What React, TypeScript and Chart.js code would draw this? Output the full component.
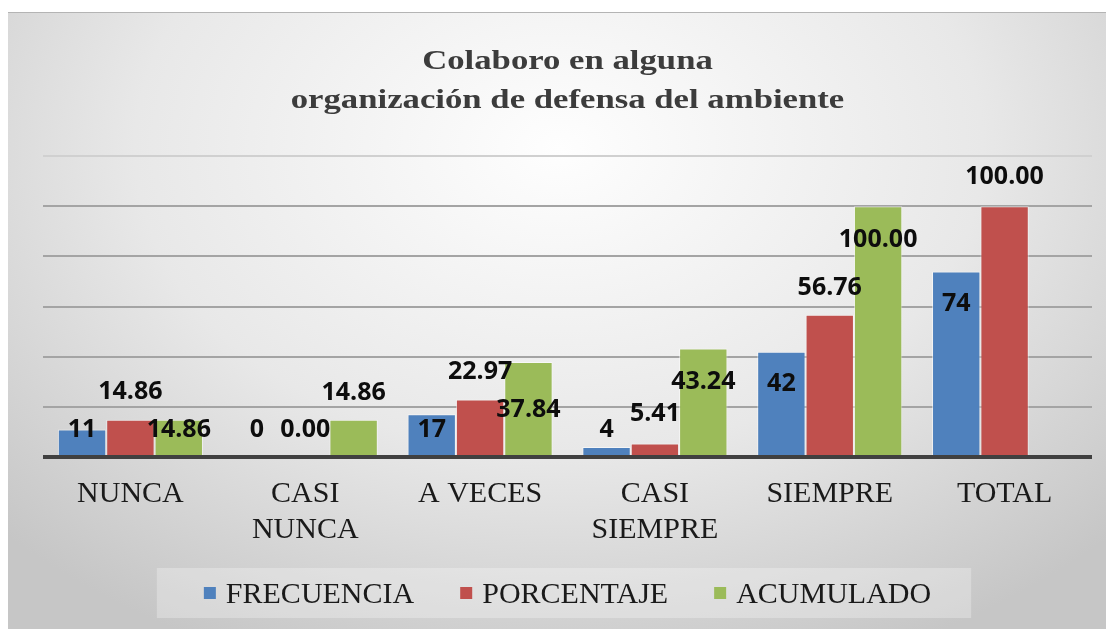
import React, { useEffect, useRef } from "react";
import { Chart, registerables } from "chart.js";

Chart.register(...registerables);

// ---- data ----
const TITLE_LINES = ["Colaboro en alguna", "organización de defensa del ambiente"];
const CATEGORIES: (string | string[])[] = [
  "NUNCA",
  ["CASI", "NUNCA"],
  "A VECES",
  ["CASI", "SIEMPRE"],
  "SIEMPRE",
  "TOTAL",
];
const SERIES_NAMES = ["FRECUENCIA", "PORCENTAJE", "ACUMULADO"];
const FRECUENCIA = [11, 0, 17, 4, 42, 74];
const PORCENTAJE = [14.86, 0.0, 22.97, 5.41, 56.76, 100.0];
const ACUMULADO: (number | null)[] = [14.86, 14.86, 37.84, 43.24, 100.0, null];
const DECIMALS = [0, 2, 2];
const Y_MAX = 120;
const Y_STEP = 20;

// ---- label placement (px, relative to bar top; negative = above) ----
const LABEL_SHIFT = [
  [-1, -29, 14, -19, 30, 31],
  [-30, -29, -29, -31, -29, -31],
  [8, -29, 46, 32, 32, 0],
];

const COLORS = ["#4f81bd", "#c0504d", "#9bbb59"];
const SERIF = "'Liberation Serif', 'Times New Roman', serif";

const customPlugin = {
  id: "customDraw",
  beforeDatasetsDraw(chart: any) {
    const ctx = chart.ctx;
    const area = chart.chartArea;
    ctx.save();
    ctx.font = `30px ${SERIF}`;
    const box = 12;
    const boxGap = 10;
    const itemGap = 46;
    const widths = SERIES_NAMES.map((n) => box + boxGap + ctx.measureText(n).width);
    const total = widths.reduce((a, b) => a + b, 0) + itemGap * (SERIES_NAMES.length - 1);
    const cx = (area.left + area.right) / 2;
    let x = cx - total / 2;
    const baseline = chart.height - 25;
    ctx.fillStyle = "rgba(255,255,255,0.28)";
    ctx.fillRect(x - 47, baseline - 35, total + 47 + 40, 50);
    SERIES_NAMES.forEach((n, i) => {
      ctx.fillStyle = COLORS[i];
      ctx.fillRect(x, baseline - 16, box, box);
      ctx.fillStyle = "#1a1a1a";
      ctx.textAlign = "left";
      ctx.textBaseline = "alphabetic";
      ctx.fillText(n, x + box + boxGap, baseline);
      x += widths[i] + itemGap;
    });
    ctx.restore();
  },
  afterDatasetsDraw(chart: any) {
    const ctx = chart.ctx;
    const area = chart.chartArea;
    const yScale = chart.scales.y;
    const y0 = yScale.getPixelForValue(0);
    ctx.save();
    ctx.strokeStyle = "#404040";
    ctx.lineWidth = 4;
    ctx.beginPath();
    ctx.moveTo(area.left, y0);
    ctx.lineTo(area.right, y0);
    ctx.stroke();

    const size = 25;
    ctx.font = `bold ${size}px 'Open Sans'`;
    ctx.fillStyle = "#0d0d0d";
    ctx.textAlign = "center";
    ctx.textBaseline = "alphabetic";
    chart.data.datasets.forEach((ds: any, di: number) => {
      const meta = chart.getDatasetMeta(di);
      meta.data.forEach((bar: any, i: number) => {
        const v = ds.data[i];
        if (v === null || v === undefined) return;
        const txt = Number(v).toFixed(DECIMALS[di]);
        const cy = bar.y + LABEL_SHIFT[di][i];
        ctx.fillText(txt, bar.x, cy + size * 0.357);
      });
    });
    ctx.restore();
  },
  afterDraw(chart: any) {
    const ctx = chart.ctx;
    const area = chart.chartArea;
    const cx = (area.left + area.right) / 2;
    ctx.save();
    ctx.font = `bold 28px ${SERIF}`;
    ctx.fillStyle = "#3c3c3c";
    ctx.textAlign = "center";
    ctx.textBaseline = "alphabetic";
    const baselines = [56, 95];
    TITLE_LINES.forEach((line, i) => {
      ctx.save();
      ctx.translate(cx, baselines[i]);
      ctx.scale(1.24, 1);
      ctx.fillText(line, 0, 0);
      ctx.restore();
    });
    ctx.restore();
  },
};

export default function App() {
  const ref = useRef<HTMLCanvasElement | null>(null);

  useEffect(() => {
    if (!ref.current) return;
    const chart = new Chart(ref.current, {
      type: "bar",
      data: {
        labels: CATEGORIES as any,
        datasets: [FRECUENCIA, PORCENTAJE, ACUMULADO].map((d, i) => ({
          label: SERIES_NAMES[i],
          data: d as any,
          backgroundColor: COLORS[i],
          borderColor: "rgba(255,255,255,0.55)",
          borderWidth: 1,
          borderSkipped: "bottom",
          categoryPercentage: 0.83,
          barPercentage: 1,
        })),
      },
      options: {
        animation: false,
        responsive: false,
        maintainAspectRatio: false,
        layout: { padding: { top: 143, left: 35, right: 18, bottom: 69 } },
        plugins: {
          title: { display: false },
          tooltip: { enabled: false },
          legend: { display: false },
        },
        scales: {
          x: {
            grid: { display: false },
            border: { display: false },
            ticks: {
              font: { family: SERIF, size: 30 },
              color: "#1a1a1a",
              padding: 11,
              maxRotation: 0,
              autoSkip: false,
            },
          },
          y: {
            min: 0,
            max: Y_MAX,
            border: { display: false },
            ticks: { display: false, stepSize: Y_STEP },
            grid: {
              drawTicks: false,
              color: (c: any) =>
                c.tick.value === 0 ? "rgba(0,0,0,0)" : c.tick.value === Y_MAX ? "#d0d0d0" : "#a4a4a4",
              lineWidth: 2,
            },
          },
        },
      },
      plugins: [customPlugin],
    });
    return () => chart.destroy();
  }, []);

  return (
    <div
      style={{
        width: 1102,
        height: 616,
        marginTop: 4,
        position: "relative",
        borderTop: "1px solid #b4b4b4",
        background:
          "radial-gradient(ellipse 70% 90% at 50% 22%, #fefefe 0%, #e8e8e8 55%, #c6c6c6 100%)",
      }}
    >
      <canvas ref={ref} width={1102} height={615} style={{ display: "block" }} />
    </div>
  );
}
